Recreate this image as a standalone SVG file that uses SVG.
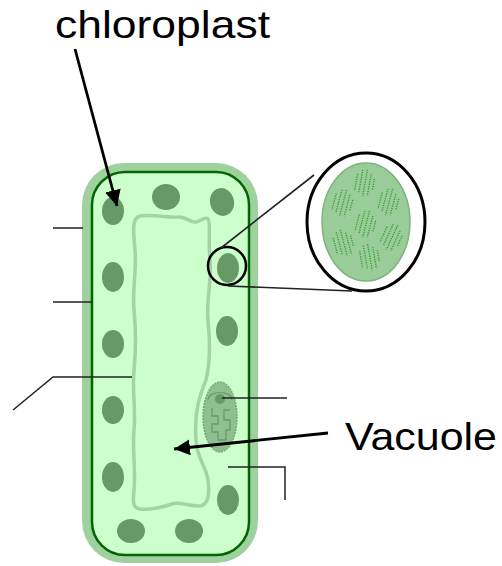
<svg xmlns="http://www.w3.org/2000/svg" width="502" height="566" viewBox="0 0 502 566">
  <style>
    .label { font-family: "Liberation Sans", Arial, sans-serif; fill: #000; }
    .chloro { fill: #669966; }
    .lead { stroke: #222; stroke-width: 1.5; fill: none; }
    .arrow { stroke: #000; stroke-width: 2.8; fill: none; }
    .zoomline { stroke: #222; stroke-width: 1.6; fill: none; }
  </style>
  <defs>
    <marker id="head" markerUnits="userSpaceOnUse" markerWidth="18" markerHeight="16" refX="16" refY="8" orient="auto">
      <path d="M0,0 L16,8 L0,16 Z" fill="#000"/>
    </marker>
    <!-- one granum stack: short dashed thylakoid columns -->
    <g id="granum" stroke="#2e9e2e" stroke-width="1.3" stroke-dasharray="1.2 1.2">
      <line x1="-7" y1="-8" x2="-7" y2="9"/>
      <line x1="-2.5" y1="-13" x2="-2.5" y2="11"/>
      <line x1="2" y1="-14" x2="2" y2="13"/>
      <line x1="6.5" y1="-10" x2="6.5" y2="12"/>
      <line x1="10.5" y1="-6" x2="10.5" y2="6"/>
    </g>
  </defs>

  <!-- plant cell -->
  <g id="cell">
    <rect x="82" y="163" width="176" height="400" rx="42" fill="#9fd19f"/>
    <rect x="92" y="172" width="157" height="383" rx="33" fill="#ccffcc" stroke="#006600" stroke-width="2.5"/>
  </g>

  <!-- central vacuole -->
  <g id="vacuole">
    <path d="M 140,216 C 155,214 168,218 178,217 C 186,216 190,223 196,222 C 202,221 204,216 208,219 C 211,222 208,240 210,260 C 212,280 206,300 208,320 C 210,340 211,360 206,380 C 200,395 194,410 196,440 C 197,460 206,465 208,480 C 210,495 208,505 200,506 C 190,507 180,501 172,504 C 164,507 150,510 140,509 C 132,508 133,500 134,490 C 136,470 132,450 134,430 C 136,410 132,390 134,370 C 136,350 136,330 134,310 C 132,290 137,270 135,250 C 133,230 132,218 140,216 Z" fill="#ccffcc" stroke="#a3d3a3" stroke-width="3.5"/>
  </g>

  <!-- nucleus -->
  <g id="nucleus">
    <ellipse cx="220" cy="417" rx="17" ry="35" fill="#8fbf8f" stroke="#77aa77" stroke-width="1.5" stroke-dasharray="2 1"/>
    <path d="M 212,408 L 212,416 L 218,416 L 218,424 L 212,424 L 212,432 L 218,432 L 218,440 L 226,440 L 226,430 L 230,430 L 230,420 L 224,420 L 224,410 L 230,410" fill="none" stroke="#6a9a6a" stroke-width="1.3"/>
    <path d="M 208,400 C 208,390 232,390 232,400" fill="none" stroke="#6a9a6a" stroke-width="1.2"/>
    <circle cx="220" cy="399" r="5" fill="#669966"/>
  </g>

  <!-- chloroplasts -->
  <g id="chloroplasts">
    <ellipse class="chloro" cx="113" cy="211" rx="11" ry="14"/>
    <ellipse class="chloro" cx="166" cy="197" rx="14" ry="13"/>
    <ellipse class="chloro" cx="222" cy="202" rx="12" ry="14" transform="rotate(-15 222 202)"/>
    <ellipse class="chloro" cx="113" cy="277" rx="11" ry="15"/>
    <ellipse class="chloro" cx="228" cy="268" rx="11" ry="15"/>
    <ellipse class="chloro" cx="113" cy="344" rx="11" ry="14"/>
    <ellipse class="chloro" cx="227" cy="331" rx="11" ry="15"/>
    <ellipse class="chloro" cx="113" cy="410" rx="11" ry="14"/>
    <ellipse class="chloro" cx="113" cy="477" rx="11" ry="15"/>
    <ellipse class="chloro" cx="228" cy="500" rx="11" ry="15"/>
    <ellipse class="chloro" cx="131" cy="531" rx="14" ry="12"/>
    <ellipse class="chloro" cx="189" cy="531" rx="14" ry="12"/>
  </g>

  <!-- magnified chloroplast -->
  <g id="magnified">
    <ellipse cx="366" cy="222" rx="59" ry="69" fill="#fff" stroke="#000" stroke-width="3"/>
    <ellipse cx="366" cy="222" rx="44" ry="59" fill="#99cc99" stroke="#7fb27f" stroke-width="1.5"/>
    <use href="#granum" transform="translate(341,203) rotate(15)"/>
    <use href="#granum" transform="translate(363,183) rotate(10)"/>
    <use href="#granum" transform="translate(387,202) rotate(15)"/>
    <use href="#granum" transform="translate(364,224) rotate(15)"/>
    <use href="#granum" transform="translate(342,244) rotate(-15)"/>
    <use href="#granum" transform="translate(390,237) rotate(25)"/>
    <use href="#granum" transform="translate(368,258) rotate(-10)"/>
  </g>

  <!-- connectors -->
  <g id="connectors">
    <circle cx="227" cy="266" r="19" fill="none" stroke="#000" stroke-width="2.5"/>
    <line class="zoomline" x1="221" y1="248" x2="314" y2="175"/>
    <line class="zoomline" x1="228" y1="286" x2="352" y2="291"/>
    <line class="lead" x1="53" y1="228" x2="83" y2="228"/>
    <line class="lead" x1="53" y1="302" x2="92" y2="302"/>
    <polyline class="lead" points="13,410 53,377 132,377"/>
    <line class="lead" x1="222" y1="398" x2="287" y2="398"/>
    <polyline class="lead" points="228,467 285,467 285,500"/>
    <line class="arrow" x1="75" y1="49" x2="117" y2="206" marker-end="url(#head)"/>
    <line class="arrow" x1="328" y1="433" x2="174" y2="449" marker-end="url(#head)"/>
  </g>

  <!-- labels -->
  <g id="labels">
    <text class="label" x="55" y="38" font-size="39" textLength="215" lengthAdjust="spacingAndGlyphs">chloroplast</text>
    <text class="label" x="345" y="450" font-size="39" textLength="152" lengthAdjust="spacingAndGlyphs">Vacuole</text>
  </g>
</svg>
